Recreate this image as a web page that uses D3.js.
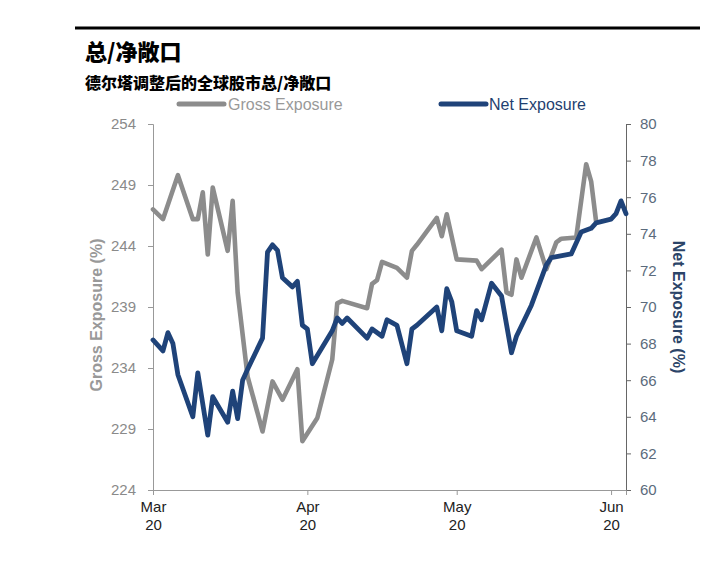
<!DOCTYPE html>
<html><head><meta charset="utf-8">
<script src="https://cdn.jsdelivr.net/npm/d3@7"></script>
<style>body{margin:0;background:#fff}svg{display:block}</style>
</head><body><svg id="c" width="720" height="572"></svg>
<script>
const title = "总/净敞口";
const subtitle = "德尔塔调整后的全球股市总/净敞口";
const seriesNames = ["Gross Exposure", "Net Exposure"];
const leftAxisTitle = "Gross Exposure (%)";
const rightAxisTitle = "Net Exposure (%)";

const grossDates = ["2020-03-01","2020-03-03","2020-03-06","2020-03-09","2020-03-10","2020-03-11","2020-03-12","2020-03-13","2020-03-16","2020-03-17","2020-03-18","2020-03-20","2020-03-23","2020-03-25","2020-03-27","2020-03-30","2020-03-31","2020-04-03","2020-04-06","2020-04-07","2020-04-08","2020-04-13","2020-04-14","2020-04-15","2020-04-16","2020-04-19","2020-04-21","2020-04-22","2020-04-23","2020-04-27","2020-04-28","2020-04-29","2020-05-01","2020-05-05","2020-05-06","2020-05-10","2020-05-11","2020-05-12","2020-05-13","2020-05-14","2020-05-17","2020-05-19","2020-05-21","2020-05-22","2020-05-25","2020-05-27","2020-05-28","2020-05-29"];
const grossValues = [247.0,246.2,249.8,246.2,246.2,248.4,243.3,248.8,243.6,247.7,240.2,233.3,228.8,232.9,231.4,233.9,228.0,229.9,234.7,239.3,239.5,238.9,240.9,241.2,242.7,242.2,241.4,243.6,244.1,246.3,244.8,246.6,242.9,242.8,242.1,243.7,240.2,240.0,242.9,241.4,244.7,242.1,244.3,244.6,244.7,250.7,249.3,246.0];

const netDates = ["2020-03-01","2020-03-03","2020-03-04","2020-03-05","2020-03-06","2020-03-09","2020-03-10","2020-03-12","2020-03-13","2020-03-16","2020-03-17","2020-03-18","2020-03-19","2020-03-20","2020-03-23","2020-03-24","2020-03-25","2020-03-26","2020-03-27","2020-03-29","2020-03-30","2020-03-31","2020-04-01","2020-04-02","2020-04-06","2020-04-07","2020-04-08","2020-04-09","2020-04-13","2020-04-14","2020-04-16","2020-04-17","2020-04-19","2020-04-21","2020-04-22","2020-04-23","2020-04-27","2020-04-28","2020-04-29","2020-04-30","2020-05-01","2020-05-04","2020-05-05","2020-05-06","2020-05-08","2020-05-10","2020-05-12","2020-05-13","2020-05-16","2020-05-19","2020-05-20","2020-05-24","2020-05-26","2020-05-28","2020-05-29","2020-06-01","2020-06-02","2020-06-03","2020-06-04"];
const netValues = [68.2,67.6,68.6,68.0,66.3,64.0,66.4,63.0,65.1,63.7,65.4,63.9,66.0,66.6,68.3,73.0,73.4,73.1,71.6,71.1,71.4,69.0,68.8,66.9,68.7,69.4,69.1,69.4,68.3,68.8,68.4,69.3,69.0,66.9,68.8,69.0,70.0,68.7,71.0,70.3,68.7,68.4,69.8,69.3,71.3,70.6,67.5,68.4,70.1,72.3,72.7,72.9,74.1,74.3,74.6,74.8,75.1,75.8,75.1];

const leftTicks = [224,229,234,239,244,249,254];
const rightTicks = [60,62,64,66,68,70,72,74,76,78,80];
const monthTicks = ["2020-03-01","2020-04-01","2020-05-01","2020-06-01"];
const monthLabels = ["Mar","Apr","May","Jun"];
const yearLabel = "20";

const parse = d3.timeParse("%Y-%m-%d");
const svg = d3.select("#c");
const L = 153, R = 626, T = 124, B = 490;
const fontLatin = "'Liberation Sans', Arial, sans-serif";
const fontCJK = "'Noto Sans CJK SC', sans-serif";
const grossColor = "#8c8c8c", netColor = "#1f4379";

const x = d3.scaleTime().domain([parse("2020-03-01"), parse("2020-06-04")]).range([L, R]);
const yL = d3.scaleLinear().domain([224, 254]).range([B, T]);
const yR = d3.scaleLinear().domain([60, 80]).range([B, T]);

// top rule
svg.append("line").attr("x1",75).attr("x2",700).attr("y1",28).attr("y2",28)
  .attr("stroke","#000").attr("stroke-width",3);

svg.append("text").attr("x",85).attr("y",60).text(title)
  .attr("font-family",fontCJK).attr("font-weight",900).attr("font-size",22).attr("fill","#000");
svg.append("text").attr("x",85).attr("y",89).text(subtitle)
  .attr("font-family",fontCJK).attr("font-weight",900).attr("font-size",16).attr("fill","#000");

// legend
const legend = [
  {name: seriesNames[0], color: grossColor, tcolor: "#999", x1: 179, x2: 224, tx: 228},
  {name: seriesNames[1], color: netColor, tcolor: "#1f3f70", x1: 441, x2: 486, tx: 489}
];
legend.forEach(l => {
  svg.append("line").attr("x1",l.x1).attr("x2",l.x2).attr("y1",104).attr("y2",104)
    .attr("stroke",l.color).attr("stroke-width",5).attr("stroke-linecap","round");
  svg.append("text").attr("x",l.tx).attr("y",109.5).text(l.name)
    .attr("font-family",fontLatin).attr("font-size",16).attr("fill",l.tcolor);
});

// left axis
const gL = svg.append("g").attr("transform",`translate(${L},0)`)
  .call(d3.axisLeft(yL).tickValues(leftTicks).tickSize(5).tickPadding(12).tickFormat(d3.format("d")));
gL.select(".domain").attr("stroke","#999");
gL.selectAll(".tick line").attr("stroke","#999");
gL.selectAll("text").attr("font-family",fontLatin).attr("font-size",15).attr("fill","#8a8a8a");

// right axis
const gR = svg.append("g").attr("transform",`translate(${R},0)`)
  .call(d3.axisRight(yR).tickValues(rightTicks).tickSize(5).tickPadding(9).tickFormat(d3.format("d")));
gR.select(".domain").attr("stroke","#666");
gR.selectAll(".tick line").attr("stroke","#666");
gR.selectAll("text").attr("font-family",fontLatin).attr("font-size",15).attr("fill","#5b6b7c");

// bottom axis
const gB = svg.append("g").attr("transform",`translate(0,${B})`)
  .call(d3.axisBottom(x).tickValues(monthTicks.map(parse)).tickSize(5).tickPadding(4).tickFormat(""));
gB.select(".domain").attr("stroke","#999");
gB.selectAll(".tick line").attr("stroke","#999");
gB.selectAll(".tick").each(function(d, i) {
  const t = d3.select(this).append("text").attr("text-anchor","middle")
    .attr("font-family",fontLatin).attr("font-size",15).attr("fill","#222");
  t.append("tspan").attr("x",0).attr("y",22).text(monthLabels[i]);
  t.append("tspan").attr("x",0).attr("y",40).text(yearLabel);
});

// axis titles
svg.append("text").attr("transform",`translate(102,315) rotate(-90)`).attr("text-anchor","middle")
  .text(leftAxisTitle).attr("font-family",fontLatin).attr("font-weight","bold").attr("font-size",16).attr("fill","#999");
svg.append("text").attr("transform",`translate(673,307) rotate(90)`).attr("text-anchor","middle")
  .text(rightAxisTitle).attr("font-family",fontLatin).attr("font-weight","bold").attr("font-size",16).attr("fill","#2b4468");

// lines
const gross = grossDates.map((d,i)=>({date: parse(d), v: grossValues[i]}));
const net = netDates.map((d,i)=>({date: parse(d), v: netValues[i]}));
svg.append("path").datum(gross)
  .attr("d", d3.line().x(d=>x(d.date)).y(d=>yL(d.v)))
  .attr("fill","none").attr("stroke",grossColor).attr("stroke-width",4.6)
  .attr("stroke-linejoin","round").attr("stroke-linecap","round");
svg.append("path").datum(net)
  .attr("d", d3.line().x(d=>x(d.date)).y(d=>yR(d.v)))
  .attr("fill","none").attr("stroke",netColor).attr("stroke-width",4.8)
  .attr("stroke-linejoin","round").attr("stroke-linecap","round");
</script>
</body></html>
